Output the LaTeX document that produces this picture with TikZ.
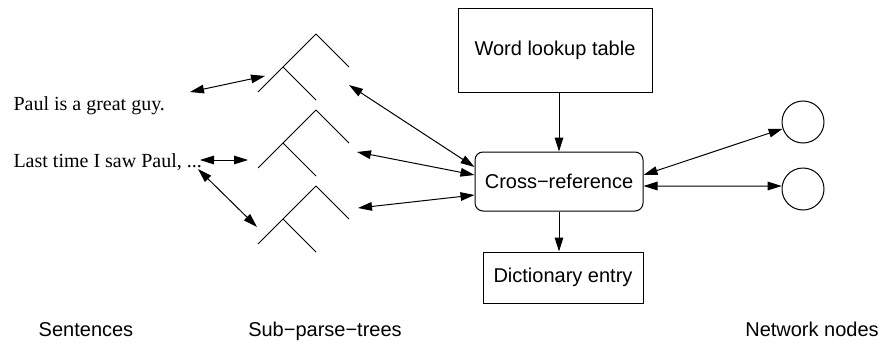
\documentclass[tikz,border=0pt]{standalone}
\usepackage{fontspec}
\setmainfont{Liberation Sans}
\newfontfamily\sentfont{Liberation Serif}
\usetikzlibrary{arrows.meta}

\tikzset{
  box/.style={draw, rectangle, inner sep=0pt, font=\fontsize{10}{12}\selectfont},
  netnode/.style={draw, circle, minimum size=21pt, inner sep=0pt},
  link/.style={{Triangle[length=7pt,width=4.3pt]}-{Triangle[length=7pt,width=4.3pt]}},
  feed/.style={-{Triangle[length=7pt,width=4.3pt]}},
  caption/.style={anchor=base, inner sep=0pt, font=\fontsize{10}{12}\selectfont},
  sentence/.style={anchor=base west, inner sep=0pt, font=\sentfont\fontsize{10}{12}\selectfont}
}

\begin{document}
\begin{tikzpicture}[x=0.5pt, y=-0.5pt, line width=0.5pt]
\useasboundingbox (0,0) rectangle (881,342);

% sentences
\node[sentence] (paul) at (13,111) {Paul is a great guy.};
\node[sentence] (last) at (13,167) {Last time I saw Paul, ...};

% sub-parse-trees
\foreach \y in {34,110,186} {
  \draw (316,\y) -- ++(33,33);
  \draw (316,\y) -- ++(-58,58);
  \draw (283,\y+33) -- ++(33,33);
}
\coordinate (s1) at (190,92);
\coordinate (s2) at (200,160);
\coordinate (s3) at (198,169);
\coordinate (t1l) at (265,76);
\coordinate (t2l) at (248,160);
\coordinate (t3l) at (257,227);
\coordinate (t1r) at (349,85);
\coordinate (t2r) at (357,152);
\coordinate (t3r) at (358,208);

% boxes
\node[box, minimum width=97pt, minimum height=41.5pt] (lookup) at (555,50.5) {Word lookup table};
\node[box, rounded corners=4pt, minimum width=84pt, minimum height=29.5pt] (xref) at (559,181.5) {Cross−reference};
\node[box, minimum width=80pt, minimum height=25.5pt] (dict) at (563,277.5) {Dictionary entry};

% network nodes
\node[netnode] (n1) at (803,122) {};
\node[netnode] (n2) at (803,189) {};

% connectors
\draw[link] (s1) -- (t1l);
\draw[link] (s2) -- (t2l);
\draw[link] (s3) -- (t3l);
\draw[link] (t1r) -- ([yshift=7.25pt]xref.west);
\draw[link] (t2r) -- ([yshift=3.25pt]xref.west);
\draw[link] (t3r) -- ([yshift=-6.75pt]xref.west);
\draw[feed] (xref.north |- lookup.south) -- (xref.north);
\draw[feed] (xref.south) -- (xref.south |- dict.north);
\draw[link] ([yshift=3.25pt]xref.east) -- (n1);
\draw[link] ([yshift=-2.25pt]xref.east) -- (n2.172);

% captions
\node[caption] (lsent) at (86,336) {Sentences};
\node[caption] (ltree) at (325,336) {Sub−parse−trees};
\node[caption] (lnet) at (812,336) {Network nodes};
\end{tikzpicture}
\end{document}
